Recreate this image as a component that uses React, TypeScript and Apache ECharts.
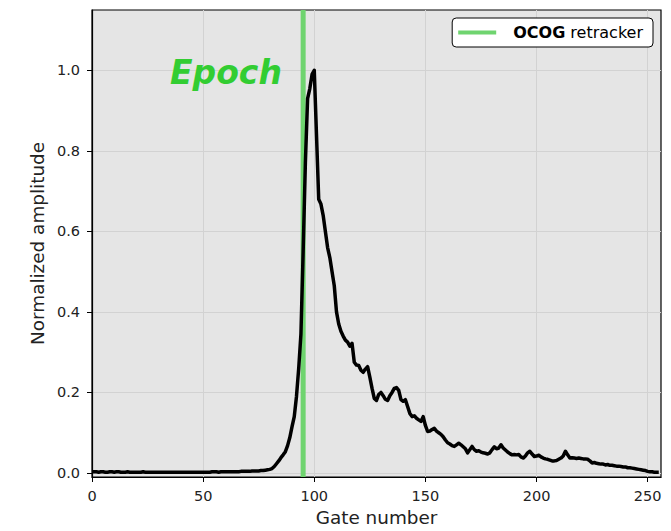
import React, { useEffect, useRef } from "react";
import * as echarts from "echarts";

const amplitude: number[] = [
  0.003, 0.003, 0.003, 0.002, 0.003, 0.003, 0.002, 0.002, 0.003, 0.003,
  0.002, 0.003, 0.003, 0.002, 0.002, 0.002, 0.003, 0.002, 0.002, 0.002,
  0.002, 0.002, 0.002, 0.003, 0.002, 0.002, 0.002, 0.002, 0.002, 0.002,
  0.002, 0.002, 0.002, 0.002, 0.002, 0.002, 0.002, 0.002, 0.002, 0.002,
  0.002, 0.002, 0.002, 0.002, 0.002, 0.002, 0.002, 0.002, 0.002, 0.002,
  0.002, 0.002, 0.002, 0.002, 0.003, 0.003, 0.003, 0.002, 0.003, 0.003,
  0.003, 0.003, 0.003, 0.003, 0.003, 0.003, 0.003, 0.004, 0.004, 0.004,
  0.004, 0.004, 0.005, 0.005, 0.005, 0.005, 0.006, 0.006, 0.007, 0.008,
  0.009, 0.011, 0.016, 0.023, 0.030, 0.038, 0.045, 0.053, 0.068, 0.088,
  0.115, 0.140, 0.190, 0.260, 0.345, 0.550, 0.770, 0.930, 0.955, 0.990,
  1.000, 0.840, 0.680, 0.668, 0.640, 0.600, 0.560, 0.535, 0.500, 0.465,
  0.400, 0.370, 0.352, 0.340, 0.330, 0.325, 0.315, 0.322, 0.275, 0.268,
  0.267, 0.255, 0.250, 0.258, 0.264, 0.238, 0.210, 0.185, 0.180, 0.195,
  0.200, 0.192, 0.183, 0.180, 0.192, 0.200, 0.210, 0.212, 0.205, 0.182,
  0.178, 0.182, 0.165, 0.148, 0.140, 0.142, 0.136, 0.132, 0.128, 0.140,
  0.118, 0.103, 0.104, 0.108, 0.111, 0.104, 0.100, 0.096, 0.090, 0.082,
  0.075, 0.072, 0.068, 0.066, 0.070, 0.074, 0.070, 0.065, 0.060, 0.050,
  0.058, 0.066, 0.058, 0.054, 0.055, 0.052, 0.050, 0.049, 0.047, 0.050,
  0.058, 0.065, 0.060, 0.062, 0.070, 0.062, 0.057, 0.052, 0.048, 0.045,
  0.046, 0.045, 0.046, 0.040, 0.037, 0.042, 0.050, 0.054, 0.047, 0.041,
  0.042, 0.044, 0.040, 0.037, 0.035, 0.034, 0.032, 0.030, 0.030, 0.031,
  0.034, 0.037, 0.042, 0.054, 0.045, 0.037, 0.038, 0.037, 0.036, 0.037,
  0.036, 0.035, 0.035, 0.034, 0.030, 0.025, 0.026, 0.024, 0.023, 0.022,
  0.022, 0.020, 0.021, 0.019, 0.019, 0.018, 0.017, 0.017, 0.016, 0.015,
  0.015, 0.013, 0.013, 0.012, 0.011, 0.010, 0.009, 0.008, 0.007, 0.006,
  0.004, 0.003, 0.003, 0.002, 0.002, 0.002,
];

const epochGate = 95;
const xTicks = [0, 50, 100, 150, 200, 250];
const yTicks = [0, 0.2, 0.4, 0.6, 0.8, 1.0];
const xLimits = [0, 256];
const yLimits = [-0.01, 1.15];
const legendName = "OCOG retracker";

const FONT = "DejaVu Sans";

export default function App() {
  const ref = useRef<HTMLDivElement>(null);
  useEffect(() => {
    if (!ref.current) return;
    const chart = echarts.init(ref.current, undefined, { renderer: "svg" });
    const waveform = amplitude.map((v, i) => [i, v]);
    chart.setOption({
      animation: false,
      backgroundColor: "#ffffff",
      grid: {
        left: 92,
        right: 10,
        top: 10,
        bottom: 52,
        show: true,
        backgroundColor: "#e5e5e5",
        borderColor: "#000",
        borderWidth: 1.2,
      },
      legend: {
        data: [legendName],
        right: 18,
        top: 18,
        backgroundColor: "#ffffff",
        borderColor: "#000",
        borderWidth: 1,
        borderRadius: 4,
        padding: [5, 10, 5, 6],
        icon: "rect",
        itemWidth: 38,
        itemHeight: 4,
        itemStyle: { color: "#6fd46f" },
        formatter: () => "{b|OCOG} {n|retracker}",
        textStyle: {
          fontFamily: FONT,
          fontSize: 16,
          color: "#000",
          lineHeight: 19,
          rich: {
            b: { fontWeight: "bold", fontSize: 16, fontFamily: FONT, color: "#000", padding: [0, 0, 0, 12] },
            n: { fontSize: 16, fontFamily: FONT, color: "#000" },
          },
        },
      },
      xAxis: {
        type: "value",
        min: xLimits[0],
        max: xLimits[1],
        name: "Gate number",
        nameLocation: "middle",
        nameGap: 31,
        nameTextStyle: { fontFamily: FONT, fontSize: 18.4, color: "#222" },
        axisLine: { show: true, onZero: false, lineStyle: { color: "#000", width: 1.2 } },
        axisTick: { show: true, length: 5, customValues: xTicks, lineStyle: { color: "#000" } },
        axisLabel: {
          customValues: xTicks,
          margin: 11,
          fontFamily: FONT,
          fontSize: 14.5,
          color: "#222",
        },
        splitLine: { show: true, lineStyle: { color: "#d2d2d2", width: 1 } },
      },
      yAxis: {
        type: "value",
        min: yLimits[0],
        max: yLimits[1],
        name: "Normalized amplitude",
        nameLocation: "middle",
        nameGap: 44,
        nameTextStyle: { fontFamily: FONT, fontSize: 18.4, color: "#222" },
        axisLine: { show: true, onZero: false, lineStyle: { color: "#000", width: 1.2 } },
        axisTick: { show: true, length: 5, customValues: yTicks, lineStyle: { color: "#000" } },
        axisLabel: {
          customValues: yTicks,
          margin: 12,
          fontFamily: FONT,
          fontSize: 14.5,
          color: "#222",
          formatter: (v: number) => v.toFixed(1),
        },
        splitLine: { show: true, lineStyle: { color: "#d2d2d2", width: 1 } },
      },
      graphic: [
        {
          type: "text",
          left: 170,
          top: 56,
          style: {
            text: "Epoch",
            fontFamily: FONT,
            fontSize: 33,
            fontWeight: "bold",
            fontStyle: "italic",
            fill: "#32cd32",
          },
          z: 10,
        },
      ],
      series: [
        {
          name: legendName,
          type: "line",
          data: [
            [epochGate, yLimits[0]],
            [epochGate, yLimits[1]],
          ],
          symbol: "none",
          lineStyle: { color: "#6fd46f", width: 5 },
          itemStyle: { color: "#6fd46f" },
          z: 2,
        },
        {
          name: "waveform",
          type: "line",
          data: waveform,
          symbol: "none",
          lineStyle: { color: "#000", width: 3.5, join: "round" },
          itemStyle: { color: "#000" },
          z: 3,
        },
      ],
    });
    return () => chart.dispose();
  }, []);
  return <div ref={ref} style={{ width: 671, height: 531, position: "absolute", left: 0, top: 0 }} />;
}
